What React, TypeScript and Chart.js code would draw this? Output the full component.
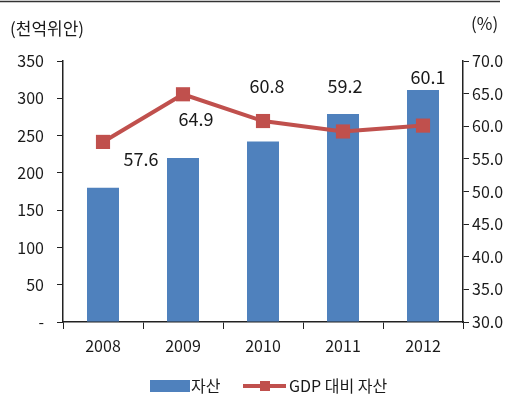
import React, { useEffect, useRef } from "react";
import { Chart, registerables } from "chart.js";

Chart.register(...registerables);

const years = ["2008", "2009", "2010", "2011", "2012"];
const assets = [180, 220, 242, 279, 311];
const gdpRatio = [57.6, 64.9, 60.8, 59.2, 60.1];
const ratioLabels = ["57.6", "64.9", "60.8", "59.2", "60.1"];
const leftUnit = "(천억위안)";
const rightUnit = "(%)";
const barName = "자산";
const lineName = "GDP 대비 자산";

const BLUE = "#4F81BD";
const RED = "#C0504D";
const TEXT = "#1a1a1a";
const FONT = "'Noto Sans CJK KR', 'Noto Sans', sans-serif";

// label offsets (px) relative to each line point
const labelOffsets = [
  [38, 17],
  [13, 25],
  [4, -35],
  [2, -45],
  [5, -48],
];

const decorPlugin = {
  id: "decor",
  afterDatasetsDraw(chart: any) {
    const ctx = chart.ctx;
    ctx.save();
    // top rule
    ctx.strokeStyle = "#333";
    ctx.lineWidth = 1.5;
    ctx.beginPath();
    ctx.moveTo(0, 1.5);
    ctx.lineTo(500, 1.5);
    ctx.stroke();

    // unit titles
    ctx.fillStyle = TEXT;
    ctx.font = `17px ${FONT}`;
    ctx.textBaseline = "middle";
    ctx.textAlign = "left";
    ctx.fillText(leftUnit, 10, 29);
    ctx.fillText(rightUnit, 471, 24);

    // data labels
    const meta = chart.getDatasetMeta(1);
    ctx.font = `18px ${FONT}`;
    ctx.textAlign = "center";
    meta.data.forEach((pt: any, i: number) => {
      const [dx, dy] = labelOffsets[i];
      ctx.fillText(ratioLabels[i], pt.x + dx, pt.y + dy);
    });

    // legend
    const ly = 386;
    ctx.fillStyle = BLUE;
    ctx.fillRect(150, ly - 6, 40, 12);
    ctx.fillStyle = TEXT;
    ctx.font = `16px ${FONT}`;
    ctx.textAlign = "left";
    ctx.fillText(barName, 191, ly);

    ctx.strokeStyle = RED;
    ctx.lineWidth = 4;
    ctx.beginPath();
    ctx.moveTo(243, ly);
    ctx.lineTo(286, ly);
    ctx.stroke();
    ctx.fillStyle = RED;
    ctx.fillRect(260, ly - 5, 10, 10);
    ctx.fillStyle = TEXT;
    ctx.fillText(lineName, 289, ly);
    ctx.restore();
  },
};

export default function App() {
  const ref = useRef<HTMLCanvasElement | null>(null);

  useEffect(() => {
    if (!ref.current) return;
    const chart = new Chart(ref.current, {
      type: "bar",
      data: {
        labels: years,
        datasets: [
          {
            type: "bar",
            label: barName,
            data: assets,
            backgroundColor: BLUE,
            borderWidth: 0,
            barPercentage: 0.4,
            categoryPercentage: 1.0,
            yAxisID: "y",
            order: 2,
          },
          {
            type: "line",
            label: lineName,
            data: gdpRatio,
            borderColor: RED,
            backgroundColor: RED,
            borderWidth: 4,
            pointStyle: "rect",
            pointRadius: 10,
            pointBorderWidth: 0,
            pointBackgroundColor: RED,
            tension: 0,
            yAxisID: "y1",
            order: 1,
          } as any,
        ],
      },
      options: {
        responsive: false,
        animation: false,
        devicePixelRatio: 1,
        layout: { padding: { top: 61, left: 0, right: 0, bottom: 0 } },
        plugins: {
          legend: { display: false },
          tooltip: { enabled: false },
        },
        scales: {
          x: {
            grid: {
              display: true,
              drawOnChartArea: false,
              drawTicks: true,
              tickLength: 7,
              color: "#222",
              offset: true,
            },
            border: { display: true, color: "#222", width: 1.5 },
            ticks: {
              color: TEXT,
              font: { family: FONT, size: 16 },
              padding: 7,
            },
            afterFit(scale: any) {
              scale.height = 75;
            },
          },
          y: {
            position: "left",
            min: 0,
            max: 350,
            grid: {
              drawOnChartArea: false,
              tickLength: 6,
              color: "#222",
            },
            border: { display: true, color: "#222", width: 1.5 },
            ticks: {
              stepSize: 50,
              color: TEXT,
              font: { family: FONT, size: 16 },
              padding: 13,
              callback: (v: any) => (Number(v) === 0 ? "-" : String(v)),
            },
            afterFit(scale: any) {
              scale.width = 63;
            },
          },
          y1: {
            position: "right",
            min: 30,
            max: 70,
            grid: {
              drawOnChartArea: false,
              tickLength: 6,
              color: "#222",
            },
            border: { display: true, color: "#222", width: 1.5 },
            ticks: {
              stepSize: 5,
              color: TEXT,
              font: { family: FONT, size: 16 },
              padding: 3,
              callback: (v: any) => Number(v).toFixed(1),
            },
            afterFit(scale: any) {
              scale.width = 45;
            },
          },
        },
      },
      plugins: [decorPlugin],
    });
    return () => chart.destroy();
  }, []);

  return (
    <div
      style={{
        position: "fixed",
        left: 0,
        top: 0,
        width: 508,
        height: 397,
        background: "#fff",
      }}
    >
      <canvas ref={ref} width={508} height={397} />
    </div>
  );
}
